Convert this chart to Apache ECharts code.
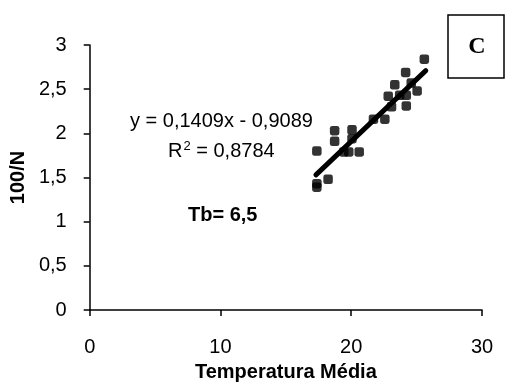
<!DOCTYPE html>
<html>
<head>
<meta charset="utf-8">
<script src="https://cdn.jsdelivr.net/npm/echarts@6/dist/echarts.min.js"></script>
<style>
html,body{margin:0;padding:0;background:#fff;}
#chart{width:506px;height:387px;}
</style>
</head>
<body>
<div id="chart"></div>
<script>
// Observed data (Temperatura Média vs 100/N)
var temperatura = [25.59, 24.16, 23.33, 24.59, 25.04, 22.83, 23.70, 24.21, 23.08, 24.21, 21.70, 22.57, 18.73, 20.06, 18.73, 20.06, 17.37, 19.81, 20.61, 19.43, 18.23, 17.37, 17.37];
var valores100N = [2.84, 2.69, 2.55, 2.57, 2.48, 2.42, 2.43, 2.43, 2.30, 2.31, 2.16, 2.16, 2.03, 2.04, 1.91, 1.94, 1.80, 1.79, 1.79, 1.79, 1.48, 1.39, 1.43];
// Trend line endpoints (as drawn in the figure)
var trendX = [17.3, 25.7];
var trendY = [1.53, 2.71];
// Axis ticks
var xTicks = [0, 10, 20, 30];
var yTicks = [0, 0.5, 1, 1.5, 2, 2.5, 3];

var points = temperatura.map(function (t, i) { return [t, valores100N[i]]; });
var trend = trendX.map(function (t, i) { return [t, trendY[i]]; });

var FONT = '"Liberation Sans", Arial, sans-serif';
var chart = echarts.init(document.getElementById('chart'), null, {renderer: 'canvas'});
chart.setOption({
  animation: false,
  backgroundColor: '#ffffff',
  grid: {left: 84, right: 24, top: 45, bottom: 72, containLabel: false},
  xAxis: {
    type: 'value', min: xTicks[0], max: xTicks[xTicks.length - 1], interval: 10,
    name: 'Temperatura Média', nameLocation: 'middle', nameGap: 52,
    nameTextStyle: {fontFamily: FONT, fontSize: 20, fontWeight: 'bold', color: '#000', verticalAlign: 'top'},
    axisLine: {lineStyle: {color: '#000', width: 1.5}},
    axisTick: {show: true, inside: false, length: 6, lineStyle: {color: '#000', width: 1.5}},
    axisLabel: {fontFamily: FONT, fontSize: 20, color: '#000', margin: 27},
    splitLine: {show: false}
  },
  yAxis: {
    type: 'value', min: yTicks[0], max: yTicks[yTicks.length - 1], interval: 0.5,
    name: '100/N', nameLocation: 'middle', nameGap: 52, nameRotate: 90,
    nameTextStyle: {fontFamily: FONT, fontSize: 20, fontWeight: 'bold', color: '#000'},
    axisLine: {show: true, lineStyle: {color: '#000', width: 1.5}},
    axisTick: {show: true, inside: false, length: 6, lineStyle: {color: '#000', width: 1.5}},
    axisLabel: {fontFamily: FONT, fontSize: 20, color: '#000', margin: 23,
      formatter: function (v) { return String(v).replace('.', ','); }},
    splitLine: {show: false}
  },
  series: [
    {
      type: 'scatter', data: points, symbol: 'roundRect', symbolSize: 9.5,
      itemStyle: {color: '#000'}, z: 3
    },
    {
      type: 'line', data: trend, symbol: 'none',
      lineStyle: {color: '#000', width: 5, cap: 'round'}, z: 4
    }
  ],
  graphic: [
    {type: 'text', left: 130, top: 111, style: {text: 'y = 0,1409x - 0,9089', font: '20px ' + FONT, fill: '#000'}},
    {type: 'text', left: 168, top: 140, style: {
      text: '{a|R}{s|2}{a| = 0,8784}',
      rich: {a: {font: '20px ' + FONT, fill: '#000', verticalAlign: 'bottom'}, s: {font: '13px ' + FONT, fill: '#000', verticalAlign: 'top', padding: [0, 0, 8, 1]}}
    }},
    {type: 'text', left: 188, top: 205, style: {text: 'Tb= 6,5', font: 'bold 20px ' + FONT, fill: '#000'}},
    {type: 'rect', shape: {x: 448, y: 15, width: 56, height: 63}, style: {fill: '#fff', stroke: '#000', lineWidth: 1.5}},
    {type: 'text', x: 477, y: 47, style: {text: 'C', font: 'bold 24px "Liberation Serif", "Times New Roman", serif', fill: '#000', align: 'center', verticalAlign: 'middle'}}
  ]
});
</script>
</body>
</html>
